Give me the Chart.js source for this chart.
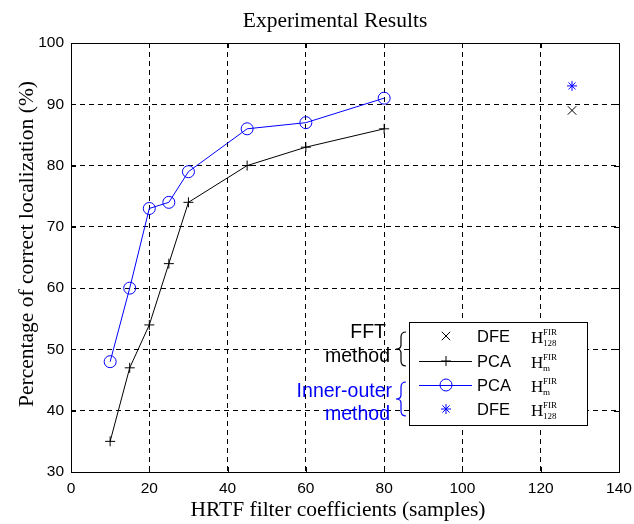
<!DOCTYPE html>
<html>
<head>
<meta charset="utf-8">
<script src="https://cdn.jsdelivr.net/npm/chart.js@4.4.0/dist/chart.umd.min.js"></script>
<style>
  html, body { margin: 0; padding: 0; background: #fff; }
  #wrap { width: 634px; height: 524px; }
</style>
</head>
<body>
<div id="wrap"><canvas id="chart"></canvas></div>
<script>
(function () {
  "use strict";

  /* ---------- dados ---------- */
  const coefficients = [10, 15, 20, 25, 30, 45, 60, 80];
  const pcaFft       = [35, 47, 54, 64, 74, 80, 83, 86];
  const pcaInner     = [48, 60, 73, 74, 79, 86, 87, 91];
  const dfeCoef      = [128];
  const dfeFft       = [89];
  const dfeInner     = [93];
  const xTicks = [0, 20, 40, 60, 80, 100, 120, 140];
  const yTicks = [30, 40, 50, 60, 70, 80, 90, 100];

  const TITLE  = "Experimental Results";
  const XLABEL = "HRTF filter coefficients (samples)";
  const YLABEL = "Percentage of correct localization (%)";

  const BLUE  = "#0000ff";
  const BLACK = "#000000";
  const SANS  = "'Liberation Sans', Arial, sans-serif";
  const SERIF = "'Liberation Serif', 'Times New Roman', serif";

  const pts = (xs, ys) => xs.map((x, i) => ({ x: x, y: ys[i] }));

  /* ---------- moldura, ticks internos, título e rótulos dos eixos ---------- */
  const framePlugin = {
    id: "frame",
    afterDraw(chart) {
      const { ctx, chartArea: a, scales } = chart;
      ctx.save();
      ctx.strokeStyle = BLACK;
      ctx.lineWidth = 1;
      ctx.setLineDash([]);
      ctx.strokeRect(a.left + 0.5, a.top + 0.5, a.right - a.left, a.bottom - a.top);
      const len = 5;
      ctx.beginPath();
      xTicks.forEach(v => {
        const px = Math.round(scales.x.getPixelForValue(v)) + 0.5;
        ctx.moveTo(px, a.bottom); ctx.lineTo(px, a.bottom - len);
        ctx.moveTo(px, a.top);    ctx.lineTo(px, a.top + len);
      });
      yTicks.forEach(v => {
        const py = Math.round(scales.y.getPixelForValue(v)) + 0.5;
        ctx.moveTo(a.left, py);  ctx.lineTo(a.left + len, py);
        ctx.moveTo(a.right, py); ctx.lineTo(a.right - len, py);
      });
      ctx.stroke();

      ctx.fillStyle = BLACK;
      ctx.font = "21.5px " + SERIF;
      ctx.textAlign = "center";
      ctx.textBaseline = "middle";
      ctx.fillText(TITLE, 335, 21);
      ctx.fillText(XLABEL, 338, 510);
      ctx.translate(27, 244);
      ctx.rotate(-Math.PI / 2);
      ctx.fillText(YLABEL, 0, 0);
      ctx.restore();
    },
  };

  /* ---------- legenda com chaves ---------- */
  const legendRows = [
    { name: "DFE", sub: "128", color: BLACK, style: "crossRot", radius: 6, line: false },
    { name: "PCA", sub: "m",   color: BLACK, style: "cross",    radius: 5, line: true },
    { name: "PCA", sub: "m",   color: BLUE,  style: "circle",   radius: 6, line: true },
    { name: "DFE", sub: "128", color: BLUE,  style: "star",     radius: 5, line: false },
  ];

  function brace(ctx, x, y0, y1, color) {
    const mid = (y0 + y1) / 2;
    ctx.strokeStyle = color;
    ctx.lineWidth = 1.2;
    ctx.beginPath();
    ctx.moveTo(x + 8, y0);
    ctx.quadraticCurveTo(x + 3, y0, x + 3, y0 + 5);
    ctx.lineTo(x + 3, mid - 4);
    ctx.quadraticCurveTo(x + 3, mid, x - 2, mid);
    ctx.quadraticCurveTo(x + 3, mid, x + 3, mid + 4);
    ctx.lineTo(x + 3, y1 - 5);
    ctx.quadraticCurveTo(x + 3, y1, x + 8, y1);
    ctx.stroke();
  }

  const legendPlugin = {
    id: "customLegend",
    afterDraw(chart) {
      const ctx = chart.ctx;
      const box = { left: 409, top: 322, right: 587, bottom: 425 };
      const rowY = [336, 361, 385, 409];
      ctx.save();
      ctx.fillStyle = "#fff";
      ctx.fillRect(box.left, box.top, box.right - box.left, box.bottom - box.top);
      ctx.strokeStyle = BLACK;
      ctx.lineWidth = 1;
      ctx.strokeRect(box.left + 0.5, box.top + 0.5, box.right - box.left, box.bottom - box.top);

      legendRows.forEach((r, i) => {
        const y = rowY[i];
        if (r.line) {
          ctx.strokeStyle = r.color;
          ctx.lineWidth = 1;
          ctx.beginPath();
          ctx.moveTo(419, y + 0.5);
          ctx.lineTo(472, y + 0.5);
          ctx.stroke();
        }
        ctx.strokeStyle = r.color;
        ctx.fillStyle = "rgba(0,0,0,0)";
        ctx.lineWidth = 1;
        Chart.helpers.drawPoint(ctx, { pointStyle: r.style, radius: r.radius, borderWidth: 1 }, 446, y);

        ctx.fillStyle = BLACK;
        ctx.textAlign = "left";
        ctx.textBaseline = "alphabetic";
        ctx.font = "16.5px " + SANS;
        ctx.fillText(r.name, 477, y + 6);
        ctx.font = "17px " + SERIF;
        ctx.fillText("H", 531, y + 7);
        ctx.font = "9px " + SERIF;
        ctx.fillText("FIR", 543, y - 1);
        ctx.fillText(r.sub, 543, y + 10);
      });

      // rótulos dos métodos
      ctx.font = "19.5px " + SANS;
      ctx.textAlign = "right";
      ctx.textBaseline = "middle";
      ctx.fillStyle = BLACK;
      ctx.fillText("FFT", 386, 333);
      ctx.fillText("method", 390, 357);
      brace(ctx, 398, 332, 366, BLACK);
      ctx.fillStyle = BLUE;
      ctx.fillText("Inner-outer", 392, 392);
      ctx.fillText("method", 390, 415);
      brace(ctx, 398, 382, 416, BLUE);
      ctx.restore();
    },
  };

  /* ---------- gráfico ---------- */
  const base = { showLine: true, borderWidth: 1, pointBorderWidth: 1, pointBackgroundColor: "rgba(0,0,0,0)" };

  new Chart(document.getElementById("chart"), {
    type: "scatter",
    data: {
      datasets: [
        { ...base, label: "PCA FFT", data: pts(coefficients, pcaFft), borderColor: BLACK,
          pointBorderColor: BLACK, pointStyle: "cross", pointRadius: 5 },
        { ...base, label: "PCA Inner-outer", data: pts(coefficients, pcaInner), borderColor: BLUE,
          pointBorderColor: BLUE, pointStyle: "circle", pointRadius: 6 },
        { ...base, showLine: false, label: "DFE FFT", data: pts(dfeCoef, dfeFft), borderColor: BLACK,
          pointBorderColor: BLACK, pointStyle: "crossRot", pointRadius: 6 },
        { ...base, showLine: false, label: "DFE Inner-outer", data: pts(dfeCoef, dfeInner), borderColor: BLUE,
          pointBorderColor: BLUE, pointStyle: "star", pointRadius: 5 },
      ],
    },
    options: {
      responsive: true,
      maintainAspectRatio: false,
      animation: false,
      layout: { padding: { top: 43, right: 15, left: 0, bottom: 0 } },
      plugins: { legend: { display: false }, tooltip: { enabled: false }, title: { display: false } },
      scales: {
        x: {
          type: "linear", min: 0, max: 140,
          afterBuildTicks: s => { s.ticks = xTicks.map(v => ({ value: v })); },
          afterFit: s => { s.height = 52; s.paddingLeft = 0; s.paddingRight = 0; },
          grid: { color: BLACK, lineWidth: 1, drawTicks: false },
          border: { display: false, dash: [5, 4] },
          ticks: { color: BLACK, font: { family: SANS, size: 15.5 }, padding: 7, maxRotation: 0 },
        },
        y: {
          type: "linear", min: 30, max: 100,
          afterBuildTicks: s => { s.ticks = yTicks.map(v => ({ value: v })); },
          afterFit: s => { s.width = 71; },
          grid: { color: BLACK, lineWidth: 1, drawTicks: false },
          border: { display: false, dash: [5, 4] },
          ticks: { color: BLACK, font: { family: SANS, size: 15.5 }, padding: 7 },
        },
      },
    },
    plugins: [framePlugin, legendPlugin],
  });
})();
</script>
</body>
</html>
